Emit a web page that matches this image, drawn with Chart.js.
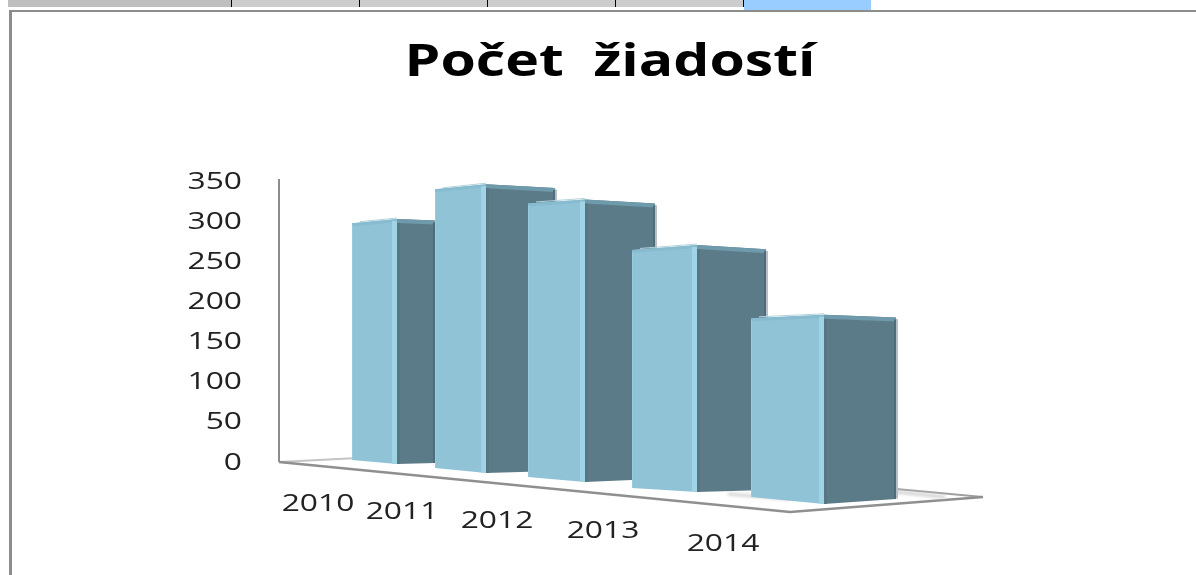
<!DOCTYPE html>
<html><head><meta charset="utf-8">
<script src="https://cdn.jsdelivr.net/npm/chart.js@4"></script>
<style>
html,body{margin:0;padding:0;background:#fff;overflow:hidden}
#w{position:relative;width:1196px;height:575px}
canvas{position:absolute;left:0;top:0}
</style></head><body>
<div id="w"><canvas id="c" width="1196" height="575"></canvas></div>
<script>
const titleText = 'Počet  žiadostí';
const categories = ['2010','2011','2012','2013','2014'];
const requests = [300,340,320,262,190];
const tickStep = 50;
const axisMax = 350;

// Perspective of the 3-D view, one entry per category
const view = {
  left:  [352,435,528,632,751],
  mid:   [397,486,585,697,824],
  right: [435,555,655,766,896],
  baseL: [460,468,477,488,497],
  baseM: [464,473,482,492,504],
  baseR: [463,471,479,490,499],
  depth: [1.017,1.058,1.10,1.174,1.24],
  leanL: [.967,.965,.968,.964,.945],
  leanR: [.99,.98,.975,.975,.96],
  labelX:[318,402,497,603,723],
  labelY:[504,512,521,531,544]
};
const stretch = {ticks:1.38, title:1.27, titleCenter:610, tickDrop:2};

function poly(ctx,pts,fill){
  ctx.beginPath();pts.forEach((p,i)=>i?ctx.lineTo(p[0],p[1]):ctx.moveTo(p[0],p[1]));ctx.closePath();
  ctx.fillStyle=fill;ctx.fill();
}
function line(ctx,pts,color,w){
  ctx.beginPath();pts.forEach((p,i)=>i?ctx.lineTo(p[0],p[1]):ctx.moveTo(p[0],p[1]));
  ctx.strokeStyle=color;ctx.lineWidth=w;ctx.stroke();
}
const view3d = {
  id:'view3d',
  beforeDraw(chart){
    const ctx=chart.ctx;
    const y=chart.scales.y;
    if(!y._wide){
      y._wide=true;
      const orig=y.drawLabels.bind(y);
      y.drawLabels=function(a){
        const R=y.right-y.options.ticks.padding;
        ctx.save();ctx.translate(R,stretch.tickDrop);ctx.scale(stretch.ticks,1);ctx.translate(-R,0);orig(a);ctx.restore();
      };
      const tb=chart.titleBlock, od=tb.draw.bind(tb);
      tb.draw=function(){
        const cx=(tb.left+tb.right)/2;
        ctx.save();ctx.translate(stretch.titleCenter,0);ctx.scale(stretch.title,1);ctx.translate(-cx,0);od();ctx.restore();
      };
    }
    // window chrome
    ctx.save();
    ctx.fillStyle='#bfbfbf';ctx.fillRect(8,0,223,7);
    ctx.fillStyle='#cccccc';ctx.fillRect(232,0,511,7);
    ctx.fillStyle='#000';[231,359,487,615,743].forEach(x=>ctx.fillRect(x,0,1,7));
    ctx.fillStyle='#99ccff';ctx.fillRect(744,0,127,10);
    ctx.fillStyle='#8c8c8c';ctx.fillRect(9,10,1187,2);ctx.fillRect(9,10,3,565);
    ctx.restore();
  },
  beforeDatasetsDraw(chart){
    const ctx=chart.ctx;
    ctx.save();
    ctx.filter='blur(0.5px)';
    line(ctx,[[279,462],[358,458]],'#c4c4c4',2);
    line(ctx,[[896,489],[983,497]],'#a0a0a0',2);
    line(ctx,[[279,462],[790,512],[983,497]],'#8f8f8f',2.5);
    // faint shadows cast on the floor
    ctx.filter='blur(1.5px)';
    line(ctx,[[435,464],[470,467]],'#e2e2e2',2);
    line(ctx,[[555,472],[590,476]],'#dcdcdc',2);
    line(ctx,[[655,480],[700,486]],'#d8d8d8',2);
    line(ctx,[[728,494],[790,499]],'#d4d4d4',3);
    line(ctx,[[896,492],[945,497]],'#cfcfcf',3);
    ctx.restore();
  },
  beforeDatasetDraw(chart,args){
    const ctx=chart.ctx, els=args.meta.data, v=view;
    ctx.save();
    els.forEach((el,i)=>{
      const h=(el.base-el.y)*v.depth[i];
      const xl=v.left[i],xm=v.mid[i],xr=v.right[i];
      const bl=[xl,v.baseL[i]],bm=[xm,v.baseM[i]],br=[xr,v.baseR[i]];
      const tl=[xl,v.baseL[i]-h*v.leanL[i]],tm=[xm,v.baseM[i]-h],tr=[xr,v.baseR[i]-h*v.leanR[i]];
      // soft shadow on the right
      poly(ctx,[[xr,tr[1]+1],[xr+2,tr[1]+2],[xr+2,br[1]-1],[xr,br[1]]],'#b5bfc4');
      // side face
      poly(ctx,[tm,tr,br,bm],'#5c7b88');
      poly(ctx,[[xm,tm[1]],[xr,tr[1]],[xr,tr[1]+4],[xm,tm[1]+4]],'#6f9aab');
      line(ctx,[[xr-1,tr[1]+2],[xr-1,br[1]]],'#4f6c79',2);
      poly(ctx,[[xm,tm[1]+4],[xm+3,tm[1]+4],[xm+3,bm[1]],[xm,bm[1]]],'#587682');
      // front face
      poly(ctx,[tl,tm,bm,bl],'#91c3d7');
      poly(ctx,[[xl,tl[1]],[xm,tm[1]],[xm,tm[1]+3],[xl,tl[1]+3]],'#87bbcf');
      poly(ctx,[[xm-5,tm[1]+2],[xm,tm[1]+2],[xm,bm[1]],[xm-5,bm[1]-0.4]],'#a1d3e6');
      line(ctx,[[xl+0.5,tl[1]+2],[xl+0.5,bl[1]]],'#9ccadd',1);
      line(ctx,[[xl+8,tl[1]-1.5],[xm,tm[1]-1]],'#b4d2dd',1);
    });
    ctx.restore();
    return false;
  },
  afterDatasetsDraw(chart){
    const ctx=chart.ctx, x=chart.scales.x;
    ctx.save();
    ctx.fillStyle='#222';ctx.textAlign='center';ctx.textBaseline='middle';
    ctx.font='23px "Open Sans"';
    categories.forEach((c,i)=>{
      ctx.save();ctx.translate(view.labelX[i],view.labelY[i]);ctx.scale(stretch.ticks,1);
      ctx.fillText(x.getLabelForValue(i),0,0);ctx.restore();
    });
    ctx.restore();
  }
};

new Chart(document.getElementById('c'),{
  type:'bar',
  data:{labels:categories,datasets:[{label:titleText,data:requests,backgroundColor:'#91c3d7',borderWidth:0}]},
  options:{
    responsive:false,animation:false,
    layout:{padding:{left:0,right:213,top:0,bottom:114}},
    plugins:{
      legend:{display:false},tooltip:{enabled:false},
      title:{display:true,text:titleText,color:'#000',
        font:{family:'"Open Sans"',size:45,weight:'bold',lineHeight:1},
        padding:{top:41,bottom:94}}
    },
    scales:{
      x:{display:false},
      y:{min:0,max:axisMax,
        grid:{display:false,drawTicks:false},
        border:{display:true,color:'#8c8c8c',width:2},
        ticks:{stepSize:tickStep,color:'#222',padding:37,font:{family:'"Open Sans"',size:23}},
        afterFit(s){s.width=279;}
      }
    }
  },
  plugins:[view3d]
});
</script>
</body></html>
